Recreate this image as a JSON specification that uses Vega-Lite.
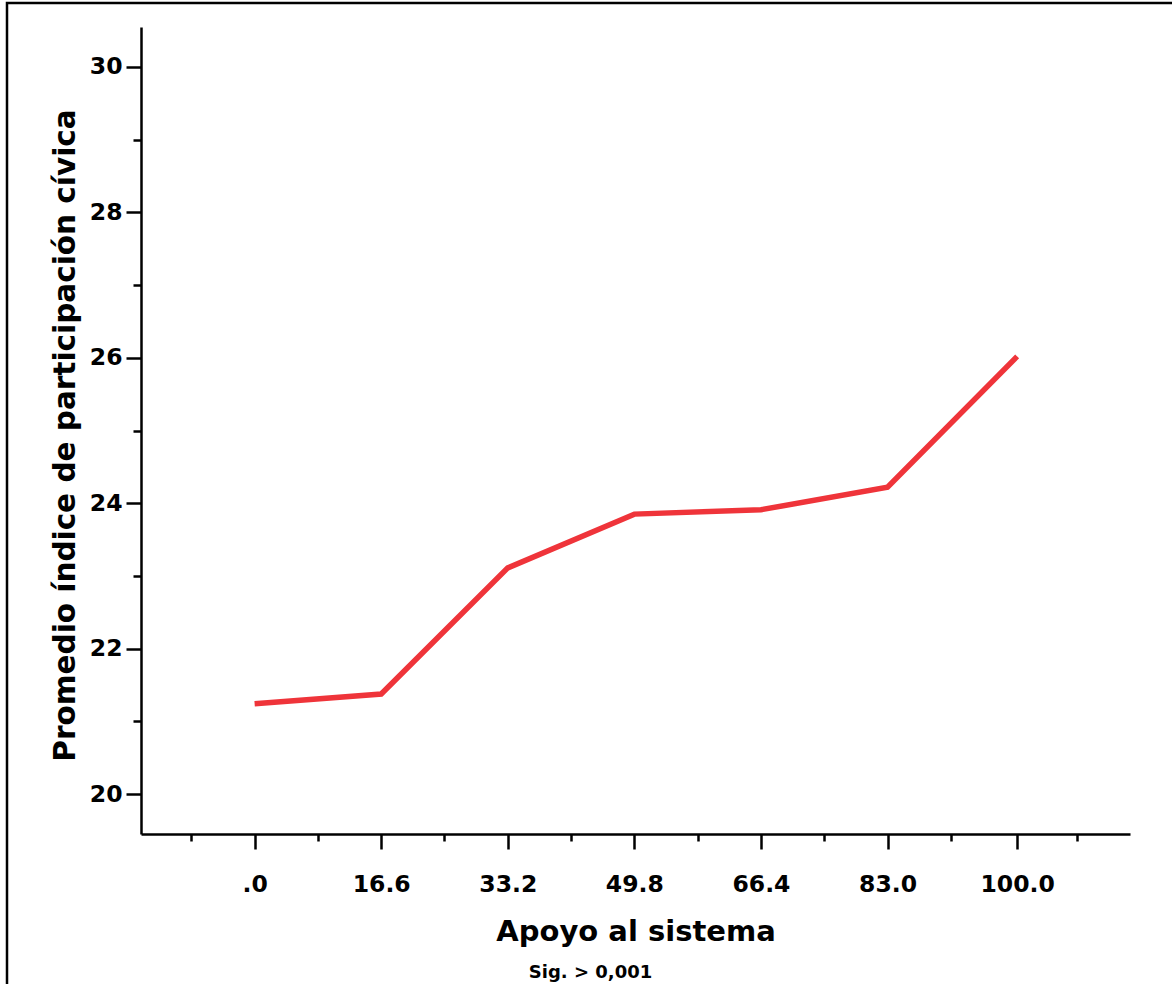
{
  "$schema": "https://vega.github.io/schema/vega-lite/v6.json",
  "autosize": {"type": "none"},
  "padding": {"left": 7, "top": 3, "right": -4, "bottom": -4},
  "width": 1169,
  "height": 985,
  "background": "white",
  "config": {
    "view": {"stroke": "black", "strokeWidth": 2.5},
    "font": "DejaVu Sans",
    "axis": {
      "domainColor": "black",
      "tickColor": "black",
      "labelColor": "black",
      "titleColor": "black",
      "grid": false,
      "labelFont": "DejaVu Sans",
      "titleFont": "DejaVu Sans",
      "labelFontWeight": "bold",
      "titleFontWeight": "bold"
    }
  },
  "data": {
    "values": [
      {"apoyo": 0.0, "promedio": 21.24},
      {"apoyo": 16.6, "promedio": 21.375},
      {"apoyo": 33.2, "promedio": 23.11},
      {"apoyo": 49.8, "promedio": 23.85},
      {"apoyo": 66.4, "promedio": 23.91},
      {"apoyo": 83.0, "promedio": 24.22},
      {"apoyo": 100.0, "promedio": 26.02}
    ]
  },
  "resolve": {"axis": {"x": "independent", "y": "independent"}},
  "layer": [
    {
      "mark": {"type": "line", "color": "#EF343A", "strokeWidth": 5.5, "strokeCap": "butt", "strokeJoin": "miter"},
      "encoding": {
        "x": {
          "field": "apoyo", "type": "quantitative",
          "scale": {"domain": [-14.9, 114.8], "range": [134, 1123], "nice": false, "zero": false},
          "axis": {
            "orient": "bottom", "offset": -154,
            "values": [0, 16.6, 33.2, 49.8, 66.4, 83.0, 100.0],
            "labelExpr": "datum.value == 0 ? '.0' : format(datum.value, '.1f')",
            "domainWidth": 2.5, "tickWidth": 2.5, "tickSize": 15,
            "labelFontSize": 23.5, "labelPadding": 23, "labelFlush": false, "labelOverlap": false,
            "title": "Apoyo al sistema", "titleFontSize": 29, "titlePadding": 22
          }
        },
        "y": {
          "field": "promedio", "type": "quantitative",
          "scale": {"domain": [19.45, 30.55], "range": [831, 24], "nice": false, "zero": false},
          "axis": {
            "orient": "left", "offset": -134,
            "values": [20, 22, 24, 26, 28, 30],
            "domainWidth": 2.5, "tickWidth": 2.5, "tickSize": 15,
            "labelFontSize": 23.5, "labelPadding": 4, "labelFlush": false, "labelOverlap": false,
            "title": "Promedio índice de participación cívica", "titleFontSize": 29.5, "titlePadding": 9, "titleY": 432
          }
        }
      }
    },
    {
      "mark": {"type": "line", "strokeOpacity": 0},
      "encoding": {
        "x": {
          "field": "apoyo", "type": "quantitative",
          "axis": {
            "orient": "bottom", "offset": -154,
            "values": [-8.3, 8.3, 24.9, 41.5, 58.1, 74.7, 91.3, 107.9],
            "domain": false, "labels": false, "tickWidth": 2.5, "tickSize": 7,
            "title": "Sig. > 0,001", "titleFontSize": 18, "titlePadding": 121, "titleX": 583
          }
        },
        "y": {
          "field": "promedio", "type": "quantitative",
          "axis": {
            "orient": "left", "offset": -134,
            "values": [21, 23, 25, 27, 29],
            "domain": false, "labels": false, "tickWidth": 2.5, "tickSize": 8,
            "title": null
          }
        }
      }
    }
  ]
}
